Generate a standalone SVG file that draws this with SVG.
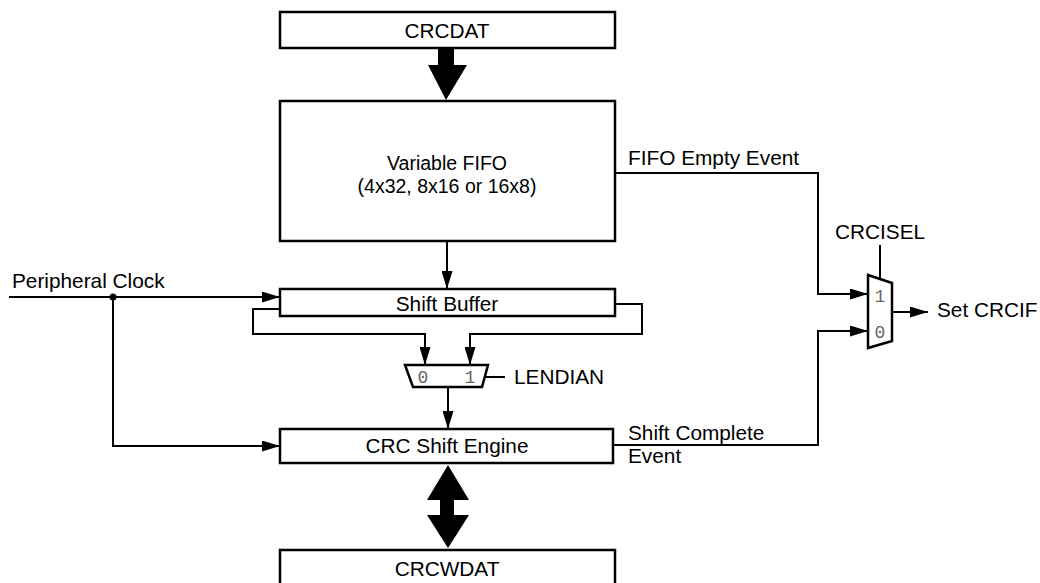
<svg xmlns="http://www.w3.org/2000/svg" width="1040" height="583" viewBox="0 0 1040 583">
<style>
.box{fill:#fff;stroke:#000;stroke-width:2.5}
.ln{fill:none;stroke:#000;stroke-width:2}
.t{font-family:"Liberation Sans",Arial,sans-serif;font-size:20.8px;fill:#000}
.s{font-size:19.5px}
.c{text-anchor:middle}
.d{font-family:"Liberation Mono","DejaVu Sans Mono",monospace;font-size:18px;fill:#666;text-anchor:middle}
</style>
<defs>
<marker id="ah" markerUnits="userSpaceOnUse" markerWidth="18" markerHeight="11" refX="18" refY="5.5" orient="auto">
<path d="M0,0 L18,5.5 L0,11 z" fill="#000"/>
</marker>
</defs>
<g id="connectors">
<path class="ln" d="M447,241 V289" marker-end="url(#ah)"/>
<path class="ln" d="M280,309 H253 V334 H425 V365" marker-end="url(#ah)"/>
<path class="ln" d="M615,304 H642 V334 H470 V365" marker-end="url(#ah)"/>
<path class="ln" d="M448,387 V429" marker-end="url(#ah)"/>
<path class="ln" d="M485,377 H505"/>
<path class="ln" d="M9,297 H280" marker-end="url(#ah)"/>
<path class="ln" d="M113,297 V446 H280" marker-end="url(#ah)"/>
<circle cx="113" cy="297" r="3.5" fill="#000"/>
<path class="ln" d="M615,173 H818 V294 H868" marker-end="url(#ah)"/>
<path class="ln" d="M613,445 H818 V331 H868" marker-end="url(#ah)"/>
<path class="ln" d="M880,245 V279"/>
<path class="ln" d="M892,312 H928" marker-end="url(#ah)"/>
<polygon points="438,48 454,48 454,65 467,65 446,100 428,65 438,65" fill="#000"/>
<polygon points="448,465 469,500 454,500 454,515 469,515 448,548 427,515 440,515 440,500 427,500" fill="#000"/>
</g>
<g id="crcdat">
<rect class="box" x="280" y="12" width="335" height="36"/>
<text class="t c" x="447" y="38">CRCDAT</text>
</g>
<g id="fifo">
<rect class="box" x="280" y="101" width="335" height="140"/>
<text class="t s c" x="447" y="170">Variable FIFO</text>
<text class="t s c" x="447" y="193">(4x32, 8x16 or 16x8)</text>
</g>
<g id="shift-buffer">
<rect class="box" x="280" y="289" width="335" height="27"/>
<text class="t c" x="447" y="311">Shift Buffer</text>
</g>
<g id="lendian-mux">
<polygon class="box" points="405,365 488,365 482,387 413,387" stroke-width="1.5"/>
<text class="d" x="423" y="383">0</text>
<text class="d" x="470" y="383">1</text>
<text class="t" x="514" y="384">LENDIAN</text>
</g>
<g id="crc-shift-engine">
<rect class="box" x="280" y="429" width="333" height="34"/>
<text class="t c" x="447" y="453">CRC Shift Engine</text>
</g>
<g id="crcwdat">
<rect class="box" x="280" y="550" width="335" height="50"/>
<text class="t c" x="447" y="576">CRCWDAT</text>
</g>
<g id="crcisel-mux">
<polygon class="box" points="868,275 892,283 892,341 868,348" stroke-width="1.5"/>
<text class="d" x="880" y="302">1</text>
<text class="d" x="880" y="338">0</text>
<text class="t" x="835" y="239">CRCISEL</text>
</g>
<g id="labels">
<text class="t" x="12" y="288">Peripheral Clock</text>
<text class="t" x="628" y="165">FIFO Empty Event</text>
<text class="t" x="628" y="440">Shift Complete</text>
<text class="t" x="628" y="463">Event</text>
<text class="t" x="937" y="317">Set CRCIF</text>
</g>
</svg>
